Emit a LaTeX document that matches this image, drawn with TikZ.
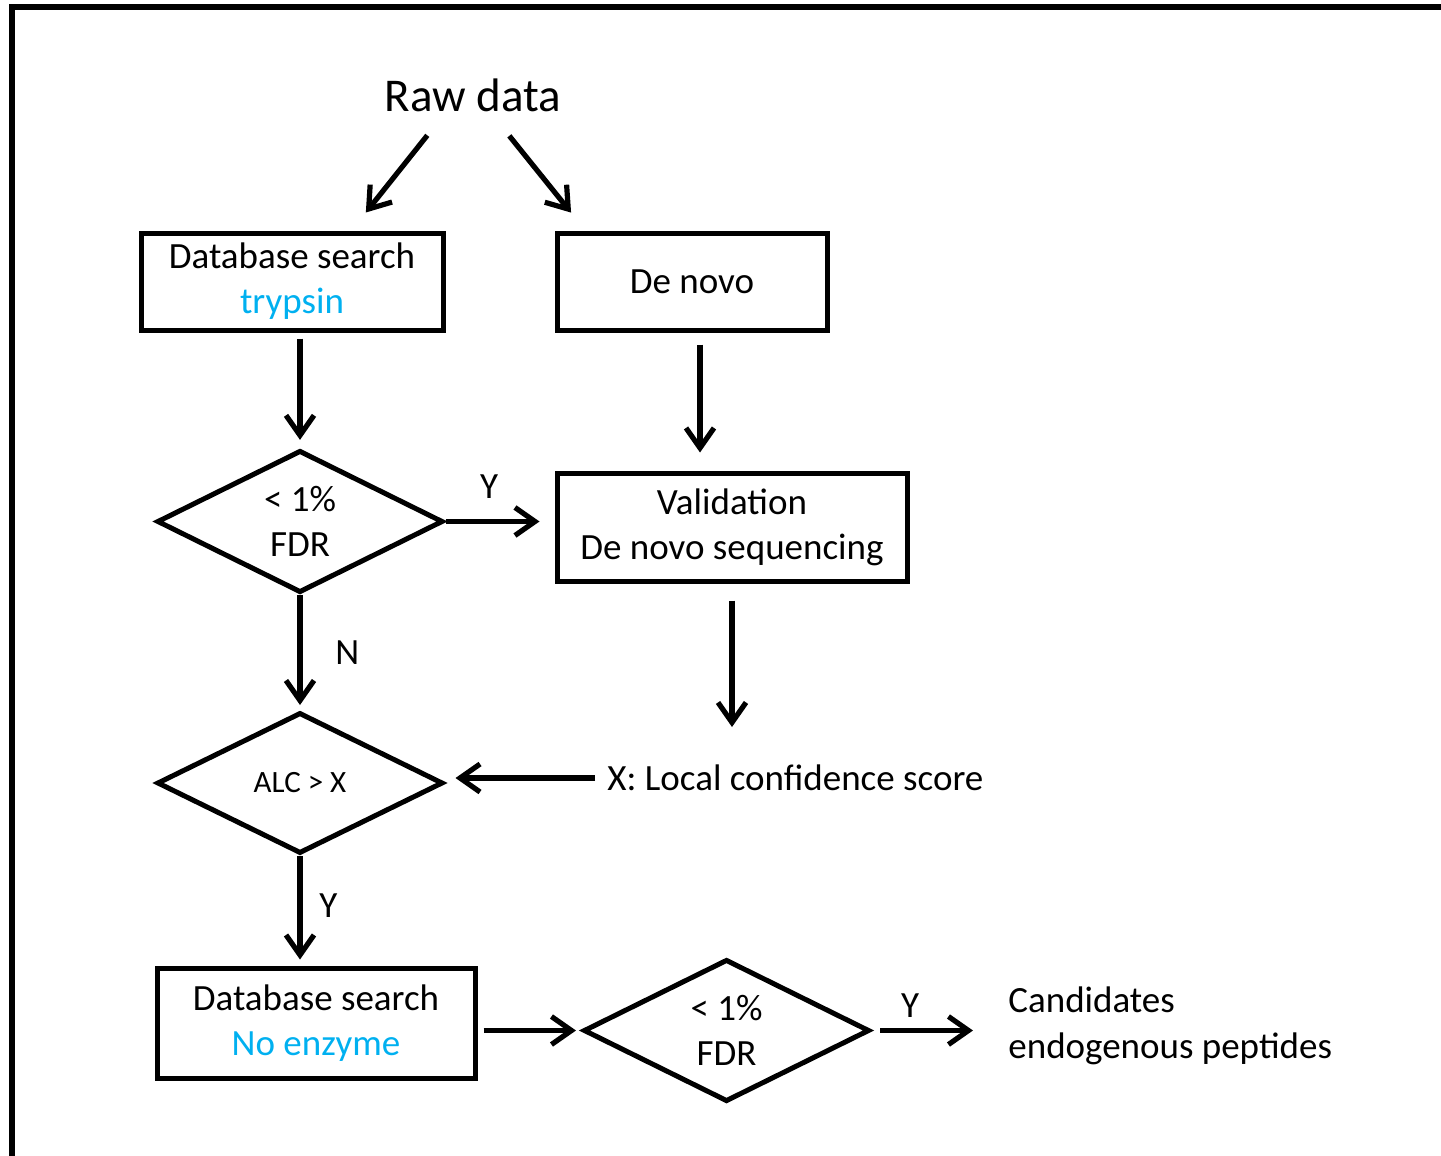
\documentclass[tikz,border=0pt]{standalone}
\usepackage{fontspec}
\setmainfont{Carlito}
\usetikzlibrary{shapes.geometric,arrows.meta,positioning}
\definecolor{enzblue}{RGB}{0,176,240}

\tikzset{
  txt/.style={font=\fontsize{18.5}{22.5}\selectfont},
  box/.style={draw, txt, line width=2.5pt, align=center, inner sep=0pt},
  decision/.style={draw, diamond, txt, line width=2.5pt, align=center, inner sep=0pt,
    minimum width=143pt, minimum height=70.5pt},
  arr/.style={-{Straight Barb[length=10pt,width=14pt]}, line width=2.6pt}
}

\begin{document}
\begin{tikzpicture}[x=0.5pt, y=-0.5pt]
        \useasboundingbox (0,0) rectangle (1441,1156);

        % Frame
        \draw[line width=2.8pt, line join=miter] (12,1170) -- (12,7) -- (1460,7);

        % Start
        \node[font=\fontsize{23.5}{28}\selectfont, inner sep=0pt] (raw) at (473,95) {Raw data};

        % Boxes
        \node[box, minimum width=151pt, minimum height=48.5pt] (db1) at (292,281.5)
            {Database search\\\textcolor{enzblue}{trypsin}};
        \node[box, minimum width=135pt, minimum height=48.5pt] (db2) at (692,281.5) {De novo};
        \node[box, minimum width=175pt, minimum height=54pt] (val) at (732,527)
            {Validation\\De novo sequencing};
        \node[box, minimum width=159pt, minimum height=55pt] (db3) at (316,1023)
            {Database search\\\textcolor{enzblue}{No enzyme}};

        % Decisions
        \node[decision] (d1) at (300,521.5) {< 1\%\\FDR};
        \node[decision, font=\fontsize{15.5}{19}\selectfont] (d2) at (300,783) {ALC > X};
        \node[decision] (d3) at (726.5,1030.5) {< 1\%\\FDR};

        % Side texts
        \node[txt, anchor=west, inner sep=0pt] (xscore) at (607,778) {X: Local confidence score};
        \node[font=\fontsize{18.5}{23}\selectfont, anchor=west, align=left, inner sep=0pt] (cand)
            at (1008,1026) {Candidates\\endogenous peptides};
        \coordinate (valend) at (732,727);
        \coordinate (dn) at ([xshift=4pt]db2.south);

        % Arrows
        \draw[arr, shorten <=15pt, shorten >=11.5pt] ([xshift=-13.5pt]raw.south) -- ([xshift=29.75pt]db1.north);
        \draw[arr, shorten <=15.4pt, shorten >=11.5pt] ([xshift=8.5pt]raw.south) -- ([xshift=-53.25pt]db2.north);
        \draw[arr, shorten <=3pt, shorten >=4pt] (db1.south -| d1.north) -- (d1.north);
        \draw[arr, shorten <=6pt, shorten >=9pt] (dn) -- (dn |- val.north);
        \draw[arr, shorten >=7.5pt] (d1.east) -- (d1.east -| val.west)
            node[txt, pos=0.4, above=7pt] (ly1) {Y};
        \draw[arr, shorten >=2.5pt] (d1.south) -- (d2.north)
            node[txt, midway, right=13pt] (ln1) {N};
        \draw[arr, shorten <=8.5pt] (val.south) -- (valend);
        \draw[arr, shorten <=6pt, shorten >=5pt] (xscore.west) -- (xscore.west -| d2.east);
        \draw[arr, shorten >=3pt] (d2.south) -- (d2.south |- db3.north)
            node[txt, pos=0.45, right=5pt] (ly2) {Y};
        \draw[arr, shorten <=3pt, shorten >=2.5pt] (db3.east |- d3.west) -- (d3.west);
        \draw[arr, shorten <=4pt, shorten >=17.5pt] (d3.east) -- (d3.east -| cand.west)
            node[txt, pos=0.28, above=2pt] (ly3) {Y};
\end{tikzpicture}
\end{document}
